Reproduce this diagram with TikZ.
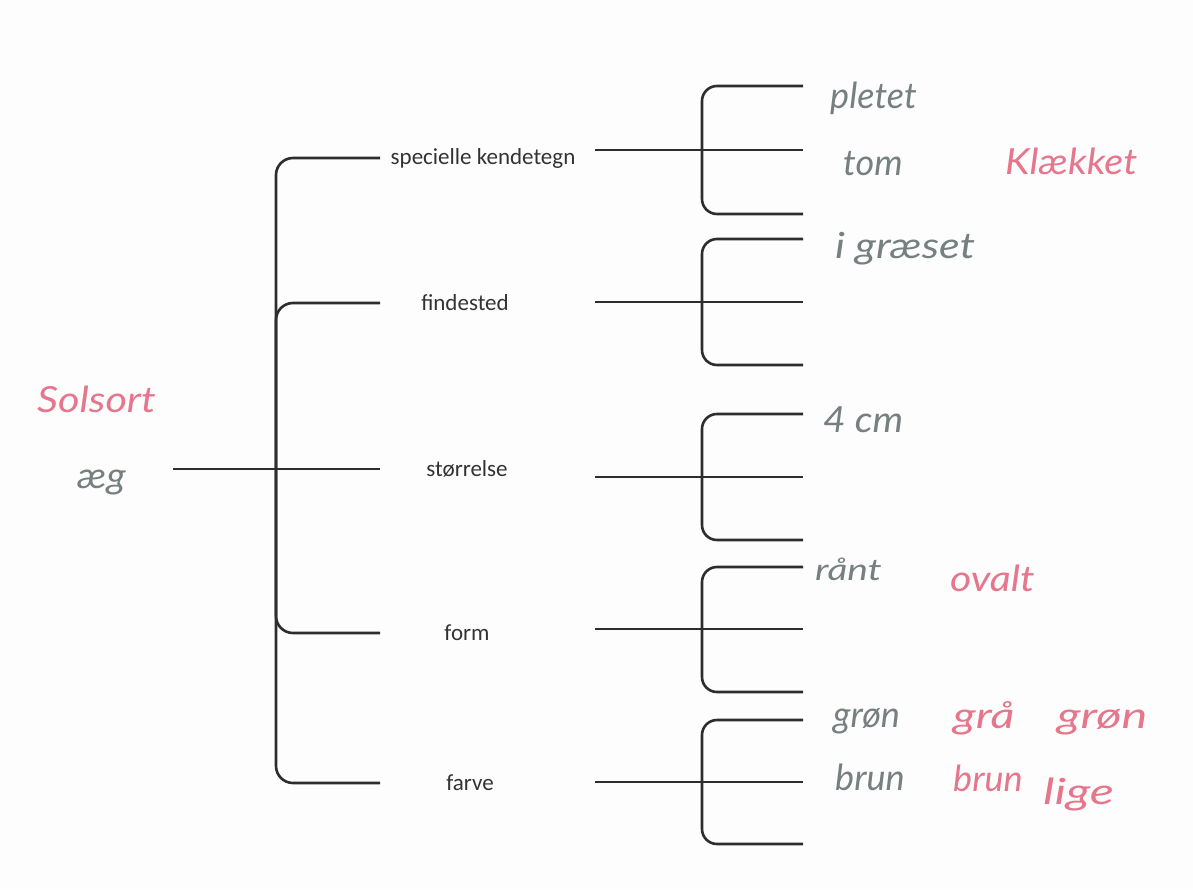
\documentclass[tikz,border=0pt]{standalone}
\usepackage{fontspec}
\setmainfont{Carlito}
\newfontfamily\hand{Lato}
\definecolor{pen}{RGB}{118,128,128}
\definecolor{pinkpen}{RGB}{230,118,140}
\definecolor{linec}{RGB}{45,45,45}
\definecolor{bgc}{RGB}{253,253,253}
\newcommand{\wid}[2]{\scalebox{#1}[1]{#2}}
\begin{document}
\begin{tikzpicture}[x=1pt,y=-1pt,
  conn/.style={draw=linec,line width=2.6pt,rounded corners=17pt},
  cat/.style={font=\fontsize{23}{26}\selectfont,text=black!80,inner sep=0pt},
  hw/.style={font=\hand\itshape\fontsize{36}{40}\selectfont,text=pen,anchor=base west,inner sep=0pt},
  hwp/.style={hw,text=pinkpen}]
\fill[bgc] (0,0) rectangle (1193,889);
\useasboundingbox (0,0) rectangle (1193,889);

% root
\node[hwp] (solsort) at (37,412) {\wid{1.15}{Solsort}};
\node[hw] (aeg) at (77,488) {\wid{1.1}{æg}};
\coordinate (rootend) at (173,469);
\coordinate (trunk) at (276,469);

% categories
\node[cat] (c1) at (483,158) {specielle kendetegn};
\node[cat] (c2) at (465,303) {findested};
\node[cat] (c3) at (467,469) {størrelse};
\node[cat] (c4) at (467,633) {form};
\node[cat] (c5) at (470,783) {farve};

\coordinate (c1L) at (380,158); \coordinate (c1R) at (595,150);
\coordinate (c2L) at (380,303); \coordinate (c2R) at (595,302);
\coordinate (c3L) at (380,469); \coordinate (c3R) at (595,477);
\coordinate (c4L) at (380,633); \coordinate (c4R) at (595,629);
\coordinate (c5L) at (380,783); \coordinate (c5R) at (595,782);

\draw[conn] (rootend) -- (c3L);
\draw[conn] (trunk) |- (c1L);
\draw[conn] (trunk) |- (c2L);
\draw[conn] (trunk) |- (c4L);
\draw[conn] (trunk) |- (c5L);

% right brackets
\foreach \i/\t/\m/\b in {1/86/150/214, 2/239/302/365, 3/414/477/540, 4/567/629/692, 5/720/782/844}{
  \coordinate (l\i a) at (803,\t);
  \coordinate (l\i b) at (803,\m);
  \coordinate (l\i c) at (803,\b);
  \coordinate (k\i) at (702,\m);
  \draw[conn,rounded corners=15pt] (k\i) |- (l\i a);
  \draw[conn,rounded corners=15pt] (k\i) |- (l\i c);
  \draw[conn] (c\i R) -- (l\i b);
}

% handwritten answers
\node[hw] (pletet) at (830,108) {pletet};
\node[hw] (tom) at (843,175) {tom};
\node[hwp] (klaekket) at (1005,174) {\wid{1.1}{Klækket}};
\node[hw] (graeset) at (835,258) {\wid{1.2}{i græset}};
\node[hw] (cm) at (823,432) {\wid{1.08}{4 cm}};
\node[hw,font=\hand\itshape\fontsize{30}{32}\selectfont] (raant) at (815,580) {\wid{1.3}{rånt}};
\node[hwp] (ovalt) at (950,591) {\wid{1.14}{ovalt}};
\node[hw] (groen) at (833,727) {grøn};
\node[hwp] (graa) at (953,728) {\wid{1.3}{grå}};
\node[hwp] (groen2) at (1057,728) {\wid{1.35}{grøn}};
\node[hw] (brun) at (835,790) {brun};
\node[hwp] (brun2) at (953,791) {brun};
\node[hwp] (lige) at (1043,804) {\wid{1.4}{lige}};
\end{tikzpicture}
\end{document}
